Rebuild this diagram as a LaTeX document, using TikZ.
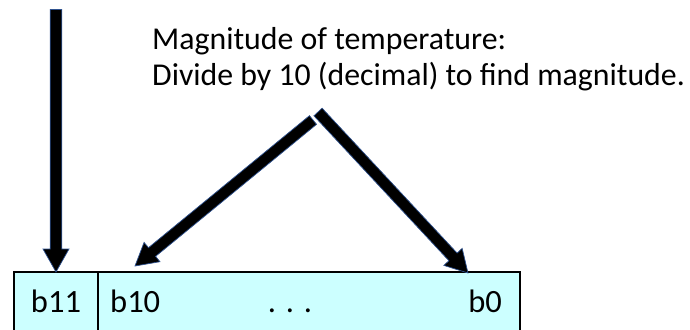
\documentclass[tikz,border=0pt]{standalone}
\usepackage{fontspec}
\setmainfont{Carlito}
\usetikzlibrary{calc}
\definecolor{boxcyan}{RGB}{204,255,255}
\definecolor{arrowedge}{RGB}{47,82,143}
\tikzset{
  bitbox/.style={draw=black, line width=1.3pt, fill=boxcyan},
  blockarrowstyle/.style={fill=black, draw=arrowedge, line width=0.7pt, line join=miter},
  labeltext/.style={inner sep=0pt, font=\fontsize{31.8}{36}\selectfont},
  bittext/.style={inner sep=0pt, font=\fontsize{32.5}{36}\selectfont}
}
% block arrow from #1 to #2, shaft half-width #3, head half-width #4, head length #5
\newcommand{\blkarrow}[5]{%
  \coordinate (ha) at ($(#2)!#5!(#1)$);
  \filldraw[blockarrowstyle]
    ($(#1)!#3!90:(#2)$) -- ($(ha)!#3!-90:(#1)$) -- ($(ha)!#4!-90:(#1)$) -- (#2)
    -- ($(ha)!#4!90:(#1)$) -- ($(ha)!#3!90:(#1)$) -- ($(#1)!#3!-90:(#2)$) -- cycle;
}
\begin{document}
\begin{tikzpicture}[x=1pt,y=-1pt]
\useasboundingbox (0,0) rectangle (690,329);
\clip (0,0) rectangle (690,329);
% register box
\draw[bitbox] (14,272) rectangle (520,345);
\draw[line width=1.3pt] (98,272) -- (98,345);
\node[bittext, anchor=base] (b11) at (56,312) {b11};
\node[bittext, anchor=base west] (b10) at (110,312) {b10};
\node[bittext, anchor=base] (dots) at (290,312) {. . .};
\node[bittext, anchor=base east] (b0) at (502,312) {b0};
% label
\node[labeltext, anchor=base west] (l1) at (152,49) {Magnitude of temperature:};
\node[labeltext, anchor=base west] (l2) at (152,85) {Divide by 10 (decimal) to find magnitude.};
% arrow endpoints
\coordinate (vs) at (56,9.5);
\coordinate (vt) at (56,272);
\coordinate (ls) at (313,120);
\coordinate (lt) at (135,266);
\coordinate (rs) at (318,112);
\coordinate (rt) at (468,273);
\blkarrow{vs}{vt}{5.8pt}{13pt}{23pt}
\blkarrow{ls}{lt}{5.6pt}{12.5pt}{22pt}
\blkarrow{rs}{rt}{5.6pt}{12.5pt}{22pt}
\end{tikzpicture}
\end{document}
